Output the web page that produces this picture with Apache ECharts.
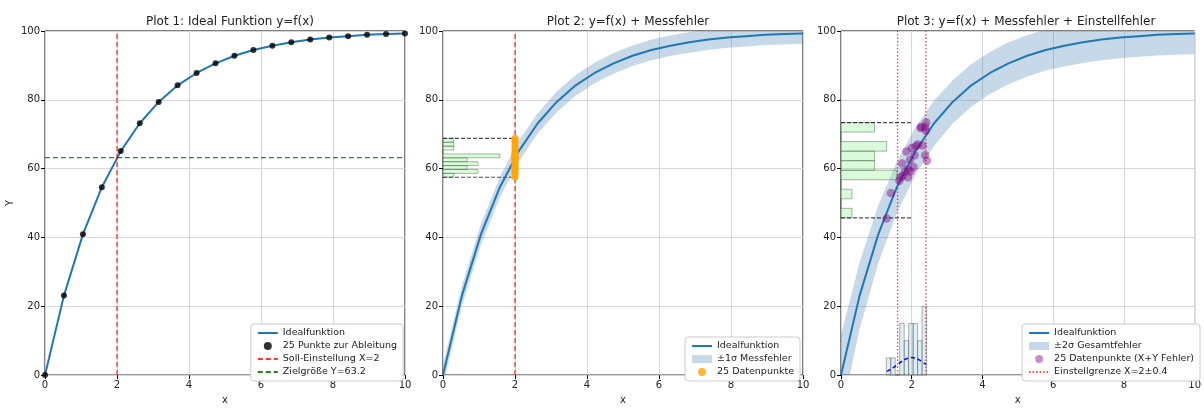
<!DOCTYPE html>
<html>
<head>
<meta charset="utf-8">
<script src="https://cdn.jsdelivr.net/npm/echarts@6/dist/echarts.min.js"></script>
<style>
  html, body { margin: 0; padding: 0; background: #fff; }
  #chart { width: 1204px; height: 410px; }
</style>
</head>
<body>
<div id="chart"></div>
<script>
// x grid of the (drawn) points and the ideal function y=f(x)
const xPts = [0, 0.526, 1.053, 1.579, 2.105, 2.632, 3.158, 3.684, 4.211, 4.737,
  5.263, 5.789, 6.316, 6.842, 7.368, 7.895, 8.421, 8.947, 9.474, 10];
const yIdeal = [0, 23.1, 40.9, 54.6, 65.1, 73.2, 79.4, 84.2, 87.8, 90.6,
  92.8, 94.5, 95.7, 96.7, 97.5, 98.1, 98.5, 98.9, 99.1, 99.3];

// plot 2: +-1 sigma band
const band2Lo = [-3, 20.1, 37.9, 51.6, 62.1, 70.2, 76.4, 81.2, 84.8, 87.6,
  89.8, 91.5, 92.7, 93.7, 94.5, 95.1, 95.5, 95.9, 96.1, 96.3];
const band2Hi = [3, 26.1, 43.9, 57.6, 68.1, 76.2, 82.4, 87.2, 90.8, 93.6,
  95.8, 97.5, 98.7, 99.7, 100.5, 101.1, 101.5, 101.9, 102.1, 102.3];

// plot 3: +-2 sigma total band
const band3Lo = [-11.7, 13.3, 32.5, 47.1, 58.2, 66.6, 73.1, 78.0, 81.7, 84.5,
  86.8, 88.5, 89.7, 90.7, 91.5, 92.1, 92.5, 92.9, 93.1, 93.3];
const band3Hi = [11.7, 32.9, 49.3, 62.1, 72.0, 79.8, 85.7, 90.4, 93.9, 96.7,
  98.8, 100.5, 101.7, 102.7, 103.5, 104.1, 104.5, 104.9, 105.1, 105.3];

const sollX = 2;
const zielY = 63.2;

// plot 2: measured points at x=2
const messY = [57.5, 58.2, 58.9, 59.3, 59.6, 60.1, 60.5, 61.0, 61.4, 61.8,
  62.3, 62.6, 63.0, 63.3, 63.6, 63.9, 64.1, 64.5, 65.0, 65.8, 66.3, 67.0, 67.9, 68.4, 68.8];
const hist2Edges = [57.5, 58.63, 59.76, 60.89, 62.02, 63.15, 64.28, 65.41, 66.54, 67.67, 68.8];
const hist2Len = [0.3, 0.97, 0.67, 0.97, 0.67, 1.58, 0, 0.3, 0.3, 0.3];
const range2 = [57.5, 68.8];

// plot 3: points with x and y error
const p3X = [2.27, 2.41, 2.38, 1.85, 2.12, 2.17, 2.31, 2.08, 2.38, 2.43, 1.73, 1.90, 1.96,
  1.81, 1.69, 1.89, 1.41, 1.29, 2.00, 1.75, 2.25, 2.05, 1.95, 2.40, 1.65];
const p3Y = [72.2, 73.4, 72.0, 65.0, 66.5, 67.0, 66.7, 63.9, 63.9, 62.3, 61.5, 59.8, 59.2,
  59.2, 57.5, 57.5, 52.9, 45.5, 66.0, 58.0, 71.8, 60.5, 62.5, 71.0, 56.5];
const hist3Edges = [45.7, 48.47, 51.24, 54.01, 56.78, 59.55, 62.32, 65.09, 67.86, 70.63, 73.4];
const hist3Len = [0.31, 0, 0.31, 0, 1.58, 0.95, 0.95, 1.29, 0, 0.95];
const range3 = [45.7, 73.4];
const xHistEdges = [1.28, 1.407, 1.533, 1.66, 1.787, 1.913, 2.04, 2.167, 2.293, 2.42];
const xHistH = [5, 5, 0, 15, 10, 15, 15, 10, 20];
const gaussX = [1.3, 1.4, 1.5, 1.6, 1.7, 1.8, 1.9, 2.0, 2.1, 2.2, 2.3, 2.4];
const gaussY = [1.10, 1.66, 2.34, 3.09, 3.85, 4.50, 4.94, 5.1, 4.94, 4.50, 3.85, 3.09];
const grenzen = [1.6, 2.4];

const FONT = 'DejaVu Sans';
const BLUE = '#1f77b4';
const BAND = 'rgba(70,130,180,0.3)';
const lefts = [45, 443, 841];
const titles = ['Plot 1: Ideal Funktion y=f(x)', 'Plot 2: y=f(x) + Messfehler',
  'Plot 3: y=f(x) + Messfehler + Einstellfehler'];

const chart = echarts.init(document.getElementById('chart'));
const pairs = (xs, ys) => xs.map((x, i) => [x, ys[i]]);

function bandSeries(name, idx, lo, hi) {
  return {
    name: name, type: 'custom', xAxisIndex: idx, yAxisIndex: idx, z: 1,
    itemStyle: { color: BAND }, data: [[0, 0]], clip: true,
    renderItem: function (params, api) {
      const pts = [];
      for (let i = 0; i < xPts.length; i++) pts.push(api.coord([xPts[i], hi[i]]));
      for (let i = xPts.length - 1; i >= 0; i--) pts.push(api.coord([xPts[i], lo[i]]));
      const cs = params.coordSys;
      return {
        type: 'polygon', shape: { points: pts }, style: { fill: BAND },
        clipPath: { type: 'rect', shape: { x: cs.x, y: cs.y, width: cs.width, height: cs.height } }
      };
    }
  };
}

function hHist(idx, edges, lens) {
  return {
    type: 'custom', xAxisIndex: idx, yAxisIndex: idx, z: 3, silent: true,
    data: lens.map((l, i) => [l, edges[i], edges[i + 1]]),
    renderItem: function (params, api) {
      const a = api.coord([0, api.value(2)]);
      const b = api.coord([api.value(0), api.value(1)]);
      return {
        type: 'rect', shape: { x: a[0], y: a[1], width: b[0] - a[0], height: b[1] - a[1] },
        style: { fill: 'rgba(144,238,144,0.32)', stroke: 'rgba(40,80,40,0.4)', lineWidth: 1 }
      };
    }
  };
}

function dashRange(idx, r) {
  return [r[0], r[1]].map(v => ({
    type: 'line', xAxisIndex: idx, yAxisIndex: idx, symbol: 'none', z: 4, silent: true,
    data: [[0, v], [sollX, v]],
    lineStyle: { color: 'rgba(0,0,0,0.7)', width: 1.2, type: [4, 2] }
  }));
}

function vLine(name, idx, x, color, type, z) {
  return {
    name: name, type: 'line', xAxisIndex: idx, yAxisIndex: idx, symbol: 'none', z: z || 5,
    data: [[x, 0], [x, 100]], itemStyle: { color: color },
    lineStyle: { color: color, width: 1.3, type: type }
  };
}

const series = [];
// ---- plot 1
series.push({
  name: 'Idealfunktion', type: 'line', xAxisIndex: 0, yAxisIndex: 0, symbol: 'none', z: 5,
  data: pairs(xPts, yIdeal), itemStyle: { color: BLUE }, lineStyle: { color: BLUE, width: 2 }
});
series.push({
  name: '25 Punkte zur Ableitung', type: 'scatter', xAxisIndex: 0, yAxisIndex: 0, z: 6,
  symbolSize: 6, data: pairs(xPts, yIdeal), itemStyle: { color: '#000' }
});
series.push(vLine('Soll-Einstellung X=2', 0, sollX, 'rgba(255,0,0,0.8)', [5, 3]));
series.push({
  name: 'Zielgröße Y=63.2', type: 'line', xAxisIndex: 0, yAxisIndex: 0, symbol: 'none', z: 5,
  data: [[0, zielY], [10, zielY]], itemStyle: { color: 'rgba(0,128,0,0.9)' },
  lineStyle: { color: 'rgba(0,128,0,0.9)', width: 1.3, type: [5, 3] }
});
// ---- plot 2
series.push(bandSeries('±1σ Messfehler', 1, band2Lo, band2Hi));
series.push({
  name: 'Idealfunktion', type: 'line', xAxisIndex: 1, yAxisIndex: 1, symbol: 'none', z: 5,
  data: pairs(xPts, yIdeal), itemStyle: { color: BLUE }, lineStyle: { color: BLUE, width: 2 }
});
series.push(vLine('', 1, sollX, 'rgba(255,0,0,0.8)', [5, 3], 4));
series.push(hHist(1, hist2Edges, hist2Len));
series.push(...dashRange(1, range2));
series.push({
  name: '25 Datenpunkte', type: 'scatter', xAxisIndex: 1, yAxisIndex: 1, z: 6,
  symbolSize: 7, data: messY.map(y => [sollX, y]), itemStyle: { color: '#ffa500' }
});
// ---- plot 3
series.push(bandSeries('±2σ Gesamtfehler', 2, band3Lo, band3Hi));
series.push({
  name: 'Idealfunktion', type: 'line', xAxisIndex: 2, yAxisIndex: 2, symbol: 'none', z: 5,
  data: pairs(xPts, yIdeal), itemStyle: { color: BLUE }, lineStyle: { color: BLUE, width: 2 }
});
series.push(vLine('Einstellgrenze X=2±0.4', 2, grenzen[0], 'rgba(255,0,0,0.75)', [1.5, 2], 4));
series.push(vLine('Einstellgrenze X=2±0.4', 2, grenzen[1], 'rgba(255,0,0,0.75)', [1.5, 2], 4));
series.push(hHist(2, hist3Edges, hist3Len));
series.push(...dashRange(2, range3));
series.push({
  type: 'custom', xAxisIndex: 2, yAxisIndex: 2, z: 3, silent: true,
  data: xHistH.map((h, i) => [xHistEdges[i], xHistEdges[i + 1], h]),
  renderItem: function (params, api) {
    const a = api.coord([api.value(0), api.value(2)]);
    const b = api.coord([api.value(1), 0]);
    return {
      type: 'rect', shape: { x: a[0], y: a[1], width: b[0] - a[0], height: b[1] - a[1] },
      style: { fill: 'rgba(173,216,230,0.4)', stroke: 'rgba(80,80,80,0.45)', lineWidth: 1 }
    };
  }
});
series.push({
  type: 'line', xAxisIndex: 2, yAxisIndex: 2, symbol: 'none', z: 4, silent: true,
  data: pairs(gaussX, gaussY), smooth: true,
  lineStyle: { color: '#0000ff', width: 1.5, type: [4, 3] }
});
series.push({
  name: '25 Datenpunkte (X+Y Fehler)', type: 'scatter', xAxisIndex: 2, yAxisIndex: 2, z: 6,
  symbolSize: 8.5, data: pairs(p3X, p3Y), itemStyle: { color: 'rgba(128,0,128,0.55)' }
});

const grids = lefts.map(l => ({
  left: l, top: 31, width: 360, height: 353, show: true,
  borderColor: '#000', borderWidth: 1, backgroundColor: '#fff'
}));

const xAxes = lefts.map((l, i) => ({
  gridIndex: i, type: 'value', min: 0, max: 10, interval: 2,
  name: 'x', nameLocation: 'middle', nameGap: 19,
  nameTextStyle: { fontFamily: FONT, fontSize: 10, color: '#222' },
  axisLine: { show: false },
  axisTick: { show: true, length: 4, lineStyle: { color: '#000' } },
  axisLabel: { fontFamily: FONT, fontSize: 10, color: '#222', margin: 5 },
  splitLine: { show: true, lineStyle: { color: '#d6d6d6', width: 1 } }
}));

const yAxes = lefts.map((l, i) => ({
  gridIndex: i, type: 'value', min: 0, max: 100, interval: 20,
  name: i === 0 ? 'Y' : '', nameLocation: 'middle', nameGap: 30,
  nameTextStyle: { fontFamily: FONT, fontSize: 10, color: '#222' },
  axisLine: { show: false },
  axisTick: { show: true, length: 4, lineStyle: { color: '#000' } },
  axisLabel: { fontFamily: FONT, fontSize: 10, color: '#222', margin: 5 },
  splitLine: { show: true, lineStyle: { color: '#d6d6d6', width: 1 } }
}));

// line entries: hide the marker that echarts adds to line legend icons
const lineItem = name => ({ name: name, itemStyle: { opacity: 0 } });

const legendBase = {
  orient: 'vertical', backgroundColor: '#fff', borderColor: '#ccc', borderWidth: 1,
  borderRadius: 3, padding: [4, 6], itemGap: 3, itemWidth: 20, itemHeight: 8,
  textStyle: { fontFamily: FONT, fontSize: 9.5, color: '#222' }, selectedMode: false
};

const option = {
  animation: false,
  backgroundColor: '#fff',
  title: lefts.map((l, i) => ({
    text: titles[i], left: l + 180, top: 11, textAlign: 'center',
    textStyle: { fontFamily: FONT, fontSize: 12, fontWeight: 'normal', color: '#222' }
  })),
  grid: grids,
  xAxis: xAxes,
  yAxis: yAxes,
  legend: [
    Object.assign({}, legendBase, {
      right: 1204 - 403, bottom: 410 - 381,
      data: [lineItem('Idealfunktion'), { name: '25 Punkte zur Ableitung', icon: 'circle' },
        lineItem('Soll-Einstellung X=2'), lineItem('Zielgröße Y=63.2')]
    }),
    Object.assign({}, legendBase, {
      right: 1204 - 800, bottom: 410 - 381,
      data: [lineItem('Idealfunktion'), { name: '±1σ Messfehler', icon: 'rect' },
        { name: '25 Datenpunkte', icon: 'circle' }]
    }),
    Object.assign({}, legendBase, {
      right: 1204 - 1200, bottom: 410 - 381,
      data: [lineItem('Idealfunktion'), { name: '±2σ Gesamtfehler', icon: 'rect' },
        { name: '25 Datenpunkte (X+Y Fehler)', icon: 'circle' }, lineItem('Einstellgrenze X=2±0.4')]
    })
  ],
  series: series
};

chart.setOption(option);
</script>
</body>
</html>
